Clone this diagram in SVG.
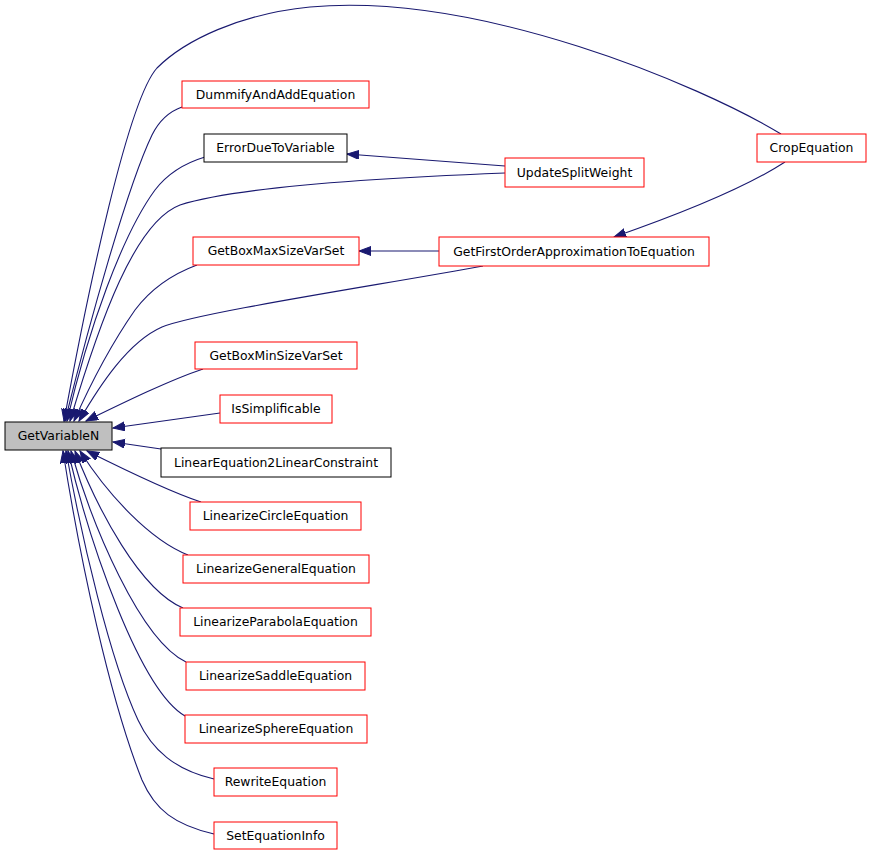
<svg xmlns="http://www.w3.org/2000/svg" width="872" height="856" viewBox="0 0 872 856">
<style>
.n rect{fill:#fff;stroke:#ff0000;stroke-width:1}
.n.b rect{stroke:#000}
.n.root rect{fill:#bfbfbf;stroke:#000}
.n text{font-family:"DejaVu Sans",sans-serif;font-size:12.4px;text-anchor:middle;fill:#000}
#edges path{fill:none;stroke:#191970;stroke-width:1.1;marker-end:url(#ah)}
</style>
<defs>
<marker id="ah" markerUnits="userSpaceOnUse" markerWidth="14" markerHeight="11" refX="12" refY="4.5" orient="auto">
<path d="M0,0 L12,4.5 L0,9 z" fill="#191970" stroke="#191970" stroke-width="1"/>
</marker>
</defs>
<rect width="872" height="856" fill="#fff"/>
<g id="edges">
<path d="M781,134 C700,85 480,-8 310,7 C240,14 185,40 157,68 C128,100 88,290 64,421"/>
<path d="M182,107 C165,113 157,125 152,135 C128,185 90,320 65,421"/>
<path d="M205,157 C185,163 168,173 155,190 C122,235 88,330 67,421"/>
<path d="M505,173 C400,177 240,186 180,205 C135,222 100,320 70,421"/>
<path d="M197,265 C170,275 150,290 135,310 C112,343 90,385 74,421"/>
<path d="M483,266 C380,285 200,312 162,327 C128,342 100,385 79,421"/>
<path d="M203,369 C170,380 125,402 86,421"/>
<path d="M220,413 L113,428"/>
<path d="M161,449 L113,442"/>
<path d="M201,502 C170,492 125,470 87,451"/>
<path d="M188,555 C150,540 108,495 80,451"/>
<path d="M183,608 C140,590 98,510 75,451"/>
<path d="M186,662 C140,640 92,525 71,451"/>
<path d="M185,716 C140,690 90,545 68,451"/>
<path d="M214,779 C175,770 152,750 138,720 C110,660 82,540 66,451"/>
<path d="M214,834 C175,825 155,810 142,780 C110,700 80,560 63,451"/>
<path d="M505,166 L347,154"/>
<path d="M439,251 L359,251"/>
<path d="M785,162 C745,188 680,214 614,237"/>
</g>
<g id="GetVariableN" class="n root"><rect x="5" y="422" width="107" height="28"/><text x="58.5" y="440">GetVariableN</text></g>
<g id="DummifyAndAddEquation" class="n"><rect x="182" y="81" width="187" height="27"/><text x="275.5" y="98.5">DummifyAndAddEquation</text></g>
<g id="ErrorDueToVariable" class="n b"><rect x="204" y="134" width="143" height="28"/><text x="275.5" y="152">ErrorDueToVariable</text></g>
<g id="UpdateSplitWeight" class="n"><rect x="505" y="158" width="139" height="29"/><text x="574.5" y="176.5">UpdateSplitWeight</text></g>
<g id="CropEquation" class="n"><rect x="757" y="134" width="109" height="28"/><text x="811.5" y="152">CropEquation</text></g>
<g id="GetBoxMaxSizeVarSet" class="n"><rect x="193" y="237" width="166" height="28"/><text x="276" y="255">GetBoxMaxSizeVarSet</text></g>
<g id="GetFirstOrderApproximationToEquation" class="n"><rect x="439" y="237" width="270" height="29"/><text x="574" y="255.5">GetFirstOrderApproximationToEquation</text></g>
<g id="GetBoxMinSizeVarSet" class="n"><rect x="195" y="342" width="162" height="27"/><text x="276" y="359.5">GetBoxMinSizeVarSet</text></g>
<g id="IsSimplificable" class="n"><rect x="220" y="395" width="112" height="28"/><text x="276" y="413">IsSimplificable</text></g>
<g id="LinearEquation2LinearConstraint" class="n b"><rect x="161" y="448" width="230" height="29"/><text x="276" y="466.5">LinearEquation2LinearConstraint</text></g>
<g id="LinearizeCircleEquation" class="n"><rect x="190" y="502" width="171" height="28"/><text x="275.5" y="520">LinearizeCircleEquation</text></g>
<g id="LinearizeGeneralEquation" class="n"><rect x="183" y="555" width="186" height="28"/><text x="276" y="573">LinearizeGeneralEquation</text></g>
<g id="LinearizeParabolaEquation" class="n"><rect x="180" y="608" width="191" height="28"/><text x="275.5" y="626">LinearizeParabolaEquation</text></g>
<g id="LinearizeSaddleEquation" class="n"><rect x="186" y="662" width="179" height="28"/><text x="275.5" y="680">LinearizeSaddleEquation</text></g>
<g id="LinearizeSphereEquation" class="n"><rect x="185" y="715" width="182" height="28"/><text x="276" y="733">LinearizeSphereEquation</text></g>
<g id="RewriteEquation" class="n"><rect x="214" y="768" width="123" height="28"/><text x="275.5" y="786">RewriteEquation</text></g>
<g id="SetEquationInfo" class="n"><rect x="214" y="822" width="123" height="27"/><text x="275.5" y="839.5">SetEquationInfo</text></g>
</svg>
